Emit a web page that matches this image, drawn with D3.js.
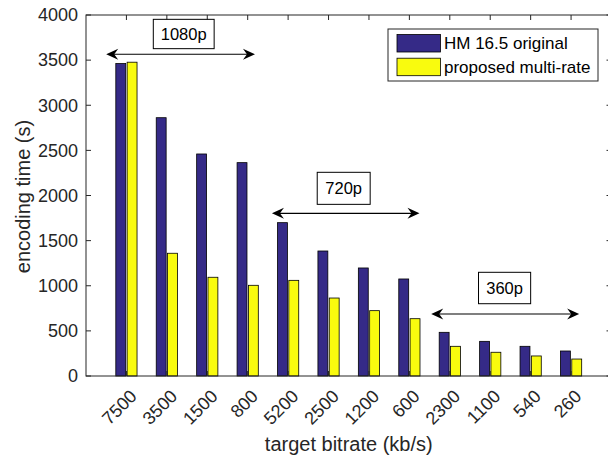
<!DOCTYPE html>
<html>
<head>
<meta charset="utf-8">
<script src="https://cdn.jsdelivr.net/npm/d3@7"></script>
<style>
  body { margin: 0; background: #fff; }
  text { font-family: "Liberation Sans", Arial, sans-serif; fill: #262626; }
</style>
</head>
<body>
<div id="chart"></div>
<script>
// Données
const bitrates = ["7500", "3500", "1500", "800", "5200", "2500", "1200", "600", "2300", "1100", "540", "260"];
const hmOriginal = [3462, 2862, 2460, 2364, 1699, 1385, 1197, 1075, 484, 384, 329, 277];
const multiRate = [3477, 1360, 1094, 1005, 1060, 864, 724, 635, 329, 263, 222, 188];
const seriesNames = ["HM 16.5 original", "proposed multi-rate"];
const yTicks = [0, 500, 1000, 1500, 2000, 2500, 3000, 3500, 4000];

// Annotations (résolutions), en unités des axes
const groups = [
    { label: "1080p", x1: 0.5, x2: 4.18, y: 3565, bx: [1.665, 3.17], by: [3627, 3952] },
    { label: "720p", x1: 4.6, x2: 8.25, y: 1803, bx: [5.72, 7.03], by: [1902, 2257] },
    { label: "360p", x1: 8.54, x2: 12.2, y: 687, bx: [9.71, 11.0], by: [801, 1149] }
];

const width = 608, height = 456;
const plot = { left: 86, right: 611.5, top: 15, bottom: 376 };
const colors = ["#352a87", "#f9fb0e"];
const axisColor = "#262626";

const svg = d3.select("#chart").append("svg")
    .attr("width", width)
    .attr("height", height);

const x = d3.scaleLinear().domain([0, bitrates.length + 1]).range([plot.left, plot.right]);
const y = d3.scaleLinear().domain([0, 4000]).range([plot.bottom, plot.top]);

// Barres groupées
const barW = 0.245, off = 0.14;
const series = [hmOriginal, multiRate];
series.forEach((vals, s) => {
    svg.append("g").selectAll("rect")
        .data(vals)
        .enter().append("rect")
        .attr("x", (d, i) => x(i + 1 + (s === 0 ? -off : off) - barW / 2))
        .attr("width", x(barW) - x(0))
        .attr("y", d => y(d))
        .attr("height", d => y(0) - y(d))
        .attr("fill", colors[s])
        .attr("stroke", "#000")
        .attr("stroke-width", 0.8);
});

// Axes (ticks vers l'intérieur, style MATLAB)
const tickLen = 5;
const xTickVals = d3.range(1, bitrates.length + 1);

const box = svg.append("g");
box.append("rect")
    .attr("x", plot.left).attr("y", plot.top)
    .attr("width", plot.right - plot.left).attr("height", plot.bottom - plot.top)
    .attr("fill", "none").attr("stroke", axisColor).attr("stroke-width", 1);

xTickVals.forEach(v => {
    box.append("line").attr("x1", x(v)).attr("x2", x(v))
        .attr("y1", plot.bottom).attr("y2", plot.bottom - tickLen)
        .attr("stroke", axisColor);
    box.append("line").attr("x1", x(v)).attr("x2", x(v))
        .attr("y1", plot.top).attr("y2", plot.top + tickLen)
        .attr("stroke", axisColor);
});
yTicks.forEach(v => {
    box.append("line").attr("x1", plot.left).attr("x2", plot.left + tickLen)
        .attr("y1", y(v)).attr("y2", y(v)).attr("stroke", axisColor);
    box.append("line").attr("x1", plot.right).attr("x2", plot.right - tickLen)
        .attr("y1", y(v)).attr("y2", y(v)).attr("stroke", axisColor);
});

// Libellés des ticks
svg.append("g").selectAll("text")
    .data(yTicks)
    .enter().append("text")
    .attr("x", plot.left - 8)
    .attr("y", d => y(d))
    .attr("dy", "0.35em")
    .attr("text-anchor", "end")
    .style("font-size", "18px")
    .text(d => d);

svg.append("g").selectAll("text")
    .data(bitrates)
    .enter().append("text")
    .attr("transform", (d, i) => `translate(${x(i + 1) + 7},${plot.bottom + 17}) rotate(-45)`)
    .attr("dy", "0.35em")
    .attr("text-anchor", "end")
    .style("font-size", "18px")
    .text(d => d);

// Titres des axes
svg.append("text")
    .attr("x", (plot.left + 611.5) / 2)
    .attr("y", 451)
    .attr("text-anchor", "middle")
    .style("font-size", "20px")
    .text("target bitrate (kb/s)");

svg.append("text")
    .attr("transform", `translate(30,${(plot.top + plot.bottom) / 2 + 1}) rotate(-90)`)
    .attr("text-anchor", "middle")
    .style("font-size", "20px")
    .text("encoding time (s)");

// Flèches doubles et boîtes de texte
const head = (tipX, tipY, dir) => {
    const L = 12, W = 5.5, N = 4;
    return `M${tipX},${tipY} L${tipX - dir * L},${tipY - W} L${tipX - dir * (L - N)},${tipY} L${tipX - dir * L},${tipY + W} Z`;
};
groups.forEach(g => {
    const gy = y(g.y);
    svg.append("line")
        .attr("x1", x(g.x1) + 6).attr("x2", x(g.x2) - 6)
        .attr("y1", gy).attr("y2", gy)
        .attr("stroke", "#000").attr("stroke-width", 1.2);
    svg.append("path").attr("d", head(x(g.x1), gy, -1)).attr("fill", "#000");
    svg.append("path").attr("d", head(x(g.x2), gy, 1)).attr("fill", "#000");

    svg.append("rect")
        .attr("x", x(g.bx[0])).attr("y", y(g.by[1]))
        .attr("width", x(g.bx[1]) - x(g.bx[0]))
        .attr("height", y(g.by[0]) - y(g.by[1]))
        .attr("fill", "#fff").attr("stroke", "#000").attr("stroke-width", 1);
    svg.append("text")
        .attr("x", (x(g.bx[0]) + x(g.bx[1])) / 2)
        .attr("y", (y(g.by[0]) + y(g.by[1])) / 2)
        .attr("dy", "0.35em")
        .attr("text-anchor", "middle")
        .style("font-size", "16.5px")
        .style("fill", "#000")
        .text(g.label);
});

// Légende
const legend = svg.append("g").attr("transform", "translate(388,29)");
legend.append("rect")
    .attr("width", 210).attr("height", 52)
    .attr("fill", "#fff").attr("stroke", axisColor).attr("stroke-width", 1);
seriesNames.forEach((name, i) => {
    legend.append("rect")
        .attr("x", 9).attr("y", 5.5 + i * 23.7)
        .attr("width", 43.5).attr("height", 17.5)
        .attr("fill", colors[i]).attr("stroke", "#000").attr("stroke-width", 0.8);
    legend.append("text")
        .attr("x", 56).attr("y", 14.5 + i * 23.7)
        .attr("dy", "0.35em")
        .style("font-size", "17px")
        .style("fill", "#000")
        .text(name);
});
</script>
</body>
</html>
